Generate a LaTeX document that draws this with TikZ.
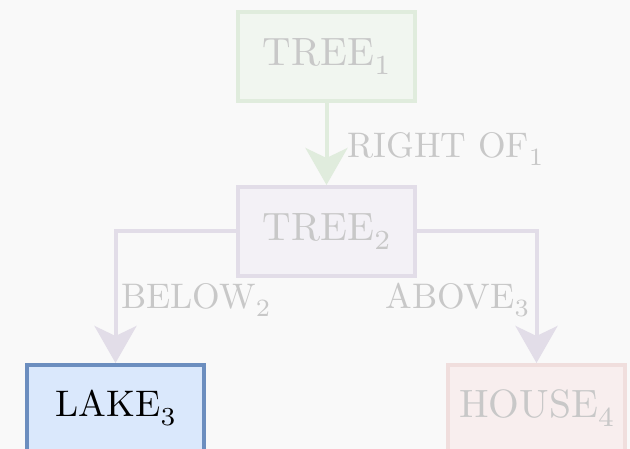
\documentclass[tikz,border=0pt]{standalone}
\usepackage{fontspec}
\setmainfont{lmroman10-regular}[Extension=.otf]
\newfontfamily\subfont{lmroman7-regular}[Extension=.otf]
\usetikzlibrary{arrows.meta}
\newcommand\subidx[1]{\raisebox{-0.24em}{\subfont\fontsize{0.7\dimexpr\csname f@size\endcsname pt\relax}{28}\selectfont #1}}
\definecolor{bg}{HTML}{F9F9F9}
\definecolor{gfill}{HTML}{F1F6F0}
\definecolor{gdraw}{HTML}{E0ECDD}
\definecolor{pfill}{HTML}{F3F1F6}
\definecolor{pdraw}{HTML}{E2DDE8}
\definecolor{bfill}{HTML}{DAE8FC}
\definecolor{bdraw}{HTML}{6C8EBF}
\definecolor{rfill}{HTML}{F8EEEE}
\definecolor{rdraw}{HTML}{F0DEDD}
\definecolor{fadetext}{HTML}{C8C8C8}
\tikzset{
  big/.style={font=\fontsize{35.5}{42}\selectfont},
  bigger/.style={font=\fontsize{39.5}{46}\selectfont},
  box/.style={draw, line width=4pt, minimum width=177pt, minimum height=89pt, inner sep=0pt, bigger},
  edge/.style={line width=4pt, -{Stealth[length=37pt,width=42pt,inset=10pt]}},
  lbl/.style={text=fadetext, big, inner sep=0pt}
}
\begin{document}
\begin{tikzpicture}[x=1pt,y=-1pt]
\fill[bg] (0,0) rectangle (630,449);
\useasboundingbox (0,0) rectangle (630,449);
\node[box, draw=gdraw, fill=gfill, text=fadetext] (t1) at (326.5,56.5) {TREE\subidx{1}};
\node[box, draw=pdraw, fill=pfill, text=fadetext] (t2) at (326.5,231.5) {TREE\subidx{2}};
\node[box, draw=bdraw, fill=bfill, minimum height=110pt, anchor=north] (lake) at (115.5,363) {};
\node[font=\fontsize{37}{44}\selectfont, inner sep=0pt] (laketxt) at (115.5,408) {LAKE\subidx{3}};
\node[box, draw=rdraw, fill=rfill, minimum height=110pt, anchor=north] (house) at (536.5,363) {};
\node[text=fadetext, bigger, inner sep=0pt] (housetxt) at (536.5,408) {HOUSE\subidx{4}};
\draw[edge, draw=gdraw] (t1.south) -- (t2.north);
\draw[edge, draw=pdraw] (t2.west) -| (lake.north);
\draw[edge, draw=pdraw] (t2.east) -| (house.north);
\node[lbl, anchor=west] (l1) at (347,149) {RIGHT OF\subidx{1}};
\node[lbl, anchor=west] (l2) at (121,300) {BELOW\subidx{2}};
\node[lbl, anchor=east] (l3) at (529,300) {ABOVE\subidx{3}};
\end{tikzpicture}
\end{document}
